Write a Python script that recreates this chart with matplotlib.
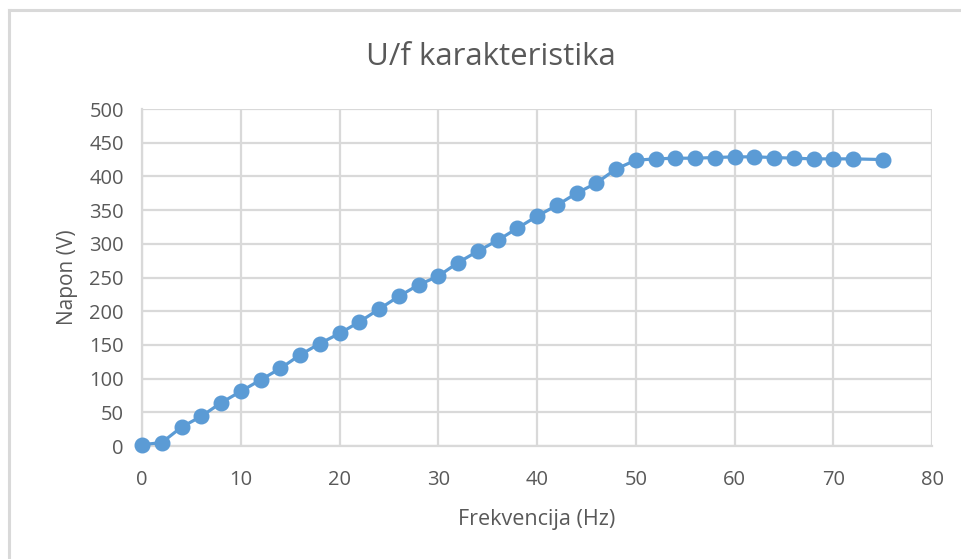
import matplotlib
matplotlib.use("Agg")
import matplotlib.pyplot as plt
from matplotlib.lines import Line2D

freq = [0, 2, 4, 6, 8, 10, 12, 14, 16, 18, 20, 22, 24, 26, 28, 30, 32, 34, 36, 38,
        40, 42, 44, 46, 48, 50, 52, 54, 56, 58, 60, 62, 64, 66, 68, 70, 72, 75]
napon = [2, 5, 28, 44, 64, 81, 98, 115, 135, 152, 167, 184, 203, 222, 239, 252, 272, 289, 305, 323,
         341, 357, 375, 390, 411, 424, 426, 427, 427, 428, 429, 429, 428, 427, 426, 426, 426, 425]
xticks = [0, 10, 20, 30, 40, 50, 60, 70, 80]
yticks = [0, 50, 100, 150, 200, 250, 300, 350, 400, 450, 500]
title = "U/f karakteristika"
xlabel = "Frekvencija (Hz)"
ylabel = "Napon (V)"

plt.rcParams['font.family'] = ['Open Sans', 'DejaVu Sans']
W, H = 962, 559
fig = plt.figure(figsize=(W / 100, H / 100), dpi=100)
ax = fig.add_axes([142 / W, 1 - 446 / H, 790 / W, 337 / H])

text_col = '#595959'
grid_col = '#d9d9d9'
line_col = '#5b9bd5'

ax.plot(freq, napon, color=line_col, lw=2.3, marker='o', ms=10.5, zorder=3, clip_on=False)
ax.set_xlim(0, 80)
ax.set_ylim(0, 500)
ax.set_xticks(xticks)
ax.set_yticks(yticks)
ax.grid(True, color=grid_col, lw=1.6)
ax.set_axisbelow(True)
for s in ['top', 'right']:
    ax.spines[s].set_visible(False)
for s in ['left', 'bottom']:
    ax.spines[s].set_color(grid_col)
    ax.spines[s].set_linewidth(1.6)
ax.tick_params(length=0, labelsize=14.5, colors=text_col)
ax.tick_params(axis='x', pad=17)
ax.tick_params(axis='y', pad=13)
ax.set_xlabel(xlabel, fontsize=15.5, color=text_col, labelpad=14)
ax.set_ylabel(ylabel, fontsize=15, color=text_col, labelpad=8)
fig.text(491 / W, 1 - 57 / H, title, fontsize=22.5, color=text_col, ha='center', va='center')

# chart border (top and left edges visible)
fig.add_artist(Line2D([9 / W, 1], [1 - 10 / H, 1 - 10 / H], color='#d9d9d9', lw=2.2, transform=fig.transFigure))
fig.add_artist(Line2D([9 / W, 9 / W], [1 - 10 / H, 0], color='#d9d9d9', lw=2.2, transform=fig.transFigure))

fig.savefig('out.png', dpi=100)
